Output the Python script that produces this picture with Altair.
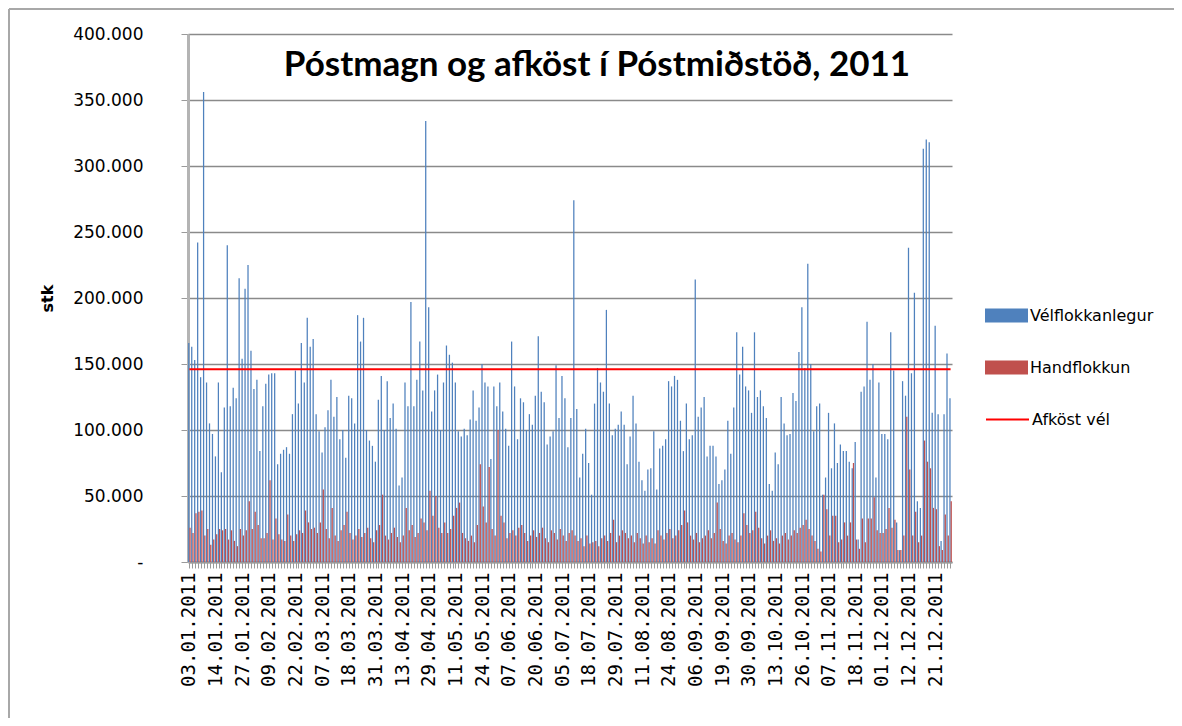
import altair as alt
import pandas as pd

TITLE = "Póstmagn og afköst í Póstmiðstöð, 2011"
Y_TITLE = "stk"
SERIES = ["Vélflokkanlegur", "Handflokkun"]
LINE_NAME = "Afköst vél"

TICK_LABELS = [
    "03.01.2011", "14.01.2011", "27.01.2011", "09.02.2011", "22.02.2011",
    "07.03.2011", "18.03.2011", "31.03.2011", "13.04.2011", "29.04.2011",
    "11.05.2011", "24.05.2011", "07.06.2011", "20.06.2011", "05.07.2011",
    "18.07.2011", "29.07.2011", "11.08.2011", "24.08.2011", "06.09.2011",
    "19.09.2011", "30.09.2011", "13.10.2011", "26.10.2011", "07.11.2011",
    "18.11.2011", "01.12.2011", "12.12.2011", "21.12.2011",
]
LABEL_STEP = 9

# Vélflokkanlegur, thousands of items per working day
VEL = [
    166, 163, 153, 242, 140, 356, 136, 105, 97, 80, 136, 68, 117, 240, 118, 132, 124, 215, 154, 207,
    225, 160, 131, 138, 84, 118, 135, 142, 143, 143, 74, 82, 85, 87, 82, 112, 145, 120, 166, 136,
    185, 163, 169,
    112, 99, 83, 102, 115, 138, 110, 125, 93, 100, 79, 126, 124, 105, 187, 167, 185, 100, 92, 88,
    76, 123, 141, 100, 137, 109, 120, 101, 58, 64, 136, 118, 197, 118, 138, 167, 130, 334, 193, 114,
    130, 142, 100, 136,
    164, 157, 151, 136, 99, 95, 101, 96, 108, 130, 107, 117, 150, 136, 133, 78, 133, 118, 136, 114,
    101, 88, 167, 133, 93, 124, 121, 100, 112, 104, 126, 171, 129, 121, 89, 95, 99, 149, 109, 141,
    124, 87, 109,
    274, 116, 64, 82, 101, 75, 51, 120, 147, 136, 129, 191, 120, 96, 101, 104, 114, 104, 74, 95,
    126, 105, 76, 62, 54, 70, 71, 99, 55, 86, 88, 93, 137, 133, 141, 138, 107, 84, 120, 93,
    96, 214, 110, 117,
    125, 80, 88, 88, 80, 59, 62, 70, 107, 82, 117, 174, 142, 163, 133, 130, 113, 174, 125, 130,
    118, 109, 59, 54, 83, 74, 125, 105, 96, 97, 128, 122, 159, 193, 147, 226, 150, 99, 118, 120,
    51, 64, 113, 71,
    105, 75, 89, 84, 84, 76, 71, 91, 17, 129, 133, 182, 138, 150, 64, 136, 97, 97, 93, 174,
    145, 30, 9, 137, 126, 238, 143, 204, 46, 41, 313, 320, 318, 113, 179, 112, 16, 112, 158, 124,
]

# Handflokkun, thousands of items per working day
HAND = [
    26, 22, 37, 38, 39, 20, 25, 13, 17, 21, 25, 24, 25, 17, 24, 16, 12, 25, 20, 24,
    46, 25, 38, 28, 18, 18, 22, 62, 17, 33, 21, 17, 16, 36, 20, 16, 21, 24, 22, 39,
    30, 25, 26,
    22, 30, 55, 25, 18, 41, 20, 16, 24, 28, 38, 22, 17, 20, 25, 19, 22, 26, 18, 15,
    24, 28, 51, 20, 17, 22, 26, 19, 15, 20, 41, 24, 28, 19, 22, 33, 30, 24, 54, 35,
    50, 26, 22, 30,
    22, 25, 35, 41, 45, 22, 18, 16, 20, 15, 28, 74, 42, 30, 72, 25, 20, 100, 35, 30,
    18, 22, 24, 20, 26, 28, 22, 16, 20, 24, 19, 22, 26, 18, 15, 24, 22, 17, 25, 20,
    16, 22, 24,
    20, 16, 18, 12, 20, 14, 15, 16, 12, 18, 20, 16, 22, 32, 15, 20, 24, 22, 18, 20,
    15, 22, 18, 14, 20, 15, 18, 14, 24, 20, 17, 22, 25, 18, 20, 24, 28, 39, 30, 20,
    17, 22, 15, 18,
    20, 24, 18, 22, 45, 25, 16, 14, 20, 22, 17, 15, 20, 37, 28, 22, 24, 38, 26, 18,
    14, 20, 24, 16, 18, 14, 20, 22, 17, 20, 24, 22, 26, 28, 32, 25, 20, 16, 10, 8,
    51, 40, 20, 35,
    35, 15, 17, 30, 20, 30, 75, 17, 10, 33, 15, 33, 33, 49, 24, 22, 22, 25, 41, 26,
    32, 9, 9, 20, 110, 70, 20, 38, 15, 20, 92, 76, 71, 41, 40, 12, 9, 36, 20, 46,
]

AFKOST = 146000  # machine capacity line
Y_TICKS = [0, 50000, 100000, 150000, 200000, 250000, 300000, 350000, 400000]

BLUE = "#4F81BD"
RED = "#C0504D"
LINE_RED = "#FF0000"

n = len(VEL)
rows = []
for i in range(n):
    rows.append({"i": i, "series": SERIES[0], "v": VEL[i] * 1000})
    rows.append({"i": i, "series": SERIES[1], "v": HAND[i] * 1000})
bars_df = pd.DataFrame(rows)
line_df = pd.DataFrame({"i": list(range(n)), "line": [LINE_NAME] * n, "v": [AFKOST] * n})

label_array = "[" + ",".join("'" + s + "'" for s in TICK_LABELS) + "]"
x_label_expr = f"datum.value % {LABEL_STEP} == 0 ? {label_array}[datum.value / {LABEL_STEP}] : ''"

PLOT_W, PLOT_H = 764, 528

x_enc = alt.X(
    "i:O",
    scale=alt.Scale(paddingInner=0.15, paddingOuter=0.05),
    axis=alt.Axis(
        title=None,
        values=list(range(n)),
        labelExpr=x_label_expr,
        labelAngle=270,
        labelOverlap=False,
        labelFont="DejaVu Sans Mono",
        labelFontSize=19,
        labelColor="#000000",
        labelPadding=4,
        tickSize=6,
        tickColor="#9a9a9a",
        domainColor="#9a9a9a",
        domainWidth=2,
        grid=False,
    ),
)

y_enc = alt.Y(
    "v:Q",
    scale=alt.Scale(domain=[0, 400000], nice=False),
    axis=alt.Axis(
        title=Y_TITLE,
        titleFont="DejaVu Sans",
        titleFontSize=16,
        titleFontWeight="bold",
        titleColor="#000000",
        titleAngle=270,
        titleX=-141,
        titleY=264,
        titleAlign="center",
        titleBaseline="middle",
        values=Y_TICKS,
        labelExpr="datum.value == 0 ? '-' : replace(format(datum.value, ','), ',', '.')",
        labelFont="DejaVu Sans",
        labelFontSize=17,
        labelColor="#000000",
        labelPadding=38,
        tickSize=7,
        tickColor="#9a9a9a",
        domainColor="#b4b4b4",
        domainWidth=3,
        grid=True,
        gridColor="#8a8a8a",
        gridWidth=1.3,
    ),
)

bars = alt.Chart(bars_df).mark_bar(opacity=1).encode(
    x=x_enc,
    xOffset=alt.XOffset("series:N", sort=SERIES, scale=alt.Scale(paddingInner=0, domain=SERIES)),
    y=y_enc,
    color=alt.Color(
        "series:N",
        scale=alt.Scale(domain=SERIES, range=[BLUE, RED]),
        legend=alt.Legend(
            title=None,
            orient="none",
            legendX=797,
            legendY=260,
            padding=0,
            symbolType="M-1,-0.33L1,-0.33L1,0.33L-1,0.33Z",
            symbolSize=1849,
            symbolStrokeWidth=0,
            symbolOpacity=1,
            rowPadding=22,
            labelOffset=2,
            labelFont="DejaVu Sans",
            labelFontSize=16,
            labelColor="#000000",
        ),
    ),
)

line = alt.Chart(line_df).mark_line(strokeWidth=2).encode(
    x=alt.X("i:O"),
    y=alt.Y("v:Q"),
    stroke=alt.Stroke(
        "line:N",
        scale=alt.Scale(domain=[LINE_NAME], range=[LINE_RED]),
        legend=alt.Legend(
            title=None,
            orient="none",
            legendX=797,
            legendY=363,
            padding=0,
            symbolType="stroke",
            symbolSize=1849,
            symbolStrokeWidth=2,
            labelOffset=2,
            labelFont="DejaVu Sans",
            labelFontSize=16,
            labelColor="#000000",
        ),
    ),
)

title_df = pd.DataFrame({"t": [TITLE]})
title = alt.Chart(title_df).mark_text(
    font="Lato",
    fontSize=35,
    fontWeight="bold",
    align="center",
    baseline="alphabetic",
    color="#000000",
).encode(
    x=alt.value(409),
    y=alt.value(42),
    text="t:N",
)

frame_df = pd.DataFrame({"f": [1]})
frame_left = alt.Chart(frame_df).mark_rule(color="#a8a8a8", strokeWidth=2).encode(
    x=alt.value(-179),
    y=alt.value(-25),
    y2=alt.value(800),
)
frame_top = alt.Chart(frame_df).mark_rule(color="#a8a8a8", strokeWidth=2).encode(
    x=alt.value(-179),
    x2=alt.value(1000),
    y=alt.value(-25),
)

chart = (
    alt.layer(bars, line, title, frame_left, frame_top)
    .resolve_scale(color="independent")
    .properties(
        width=PLOT_W,
        height=PLOT_H,
        autosize=alt.AutoSizeParams(type="none"),
        padding={"left": 180, "top": 26, "right": 222, "bottom": 156},
        background="#ffffff",
    )
    .configure_view(strokeWidth=0)
)

chart.save("out.html", embed_options={"renderer": "svg", "actions": False})
